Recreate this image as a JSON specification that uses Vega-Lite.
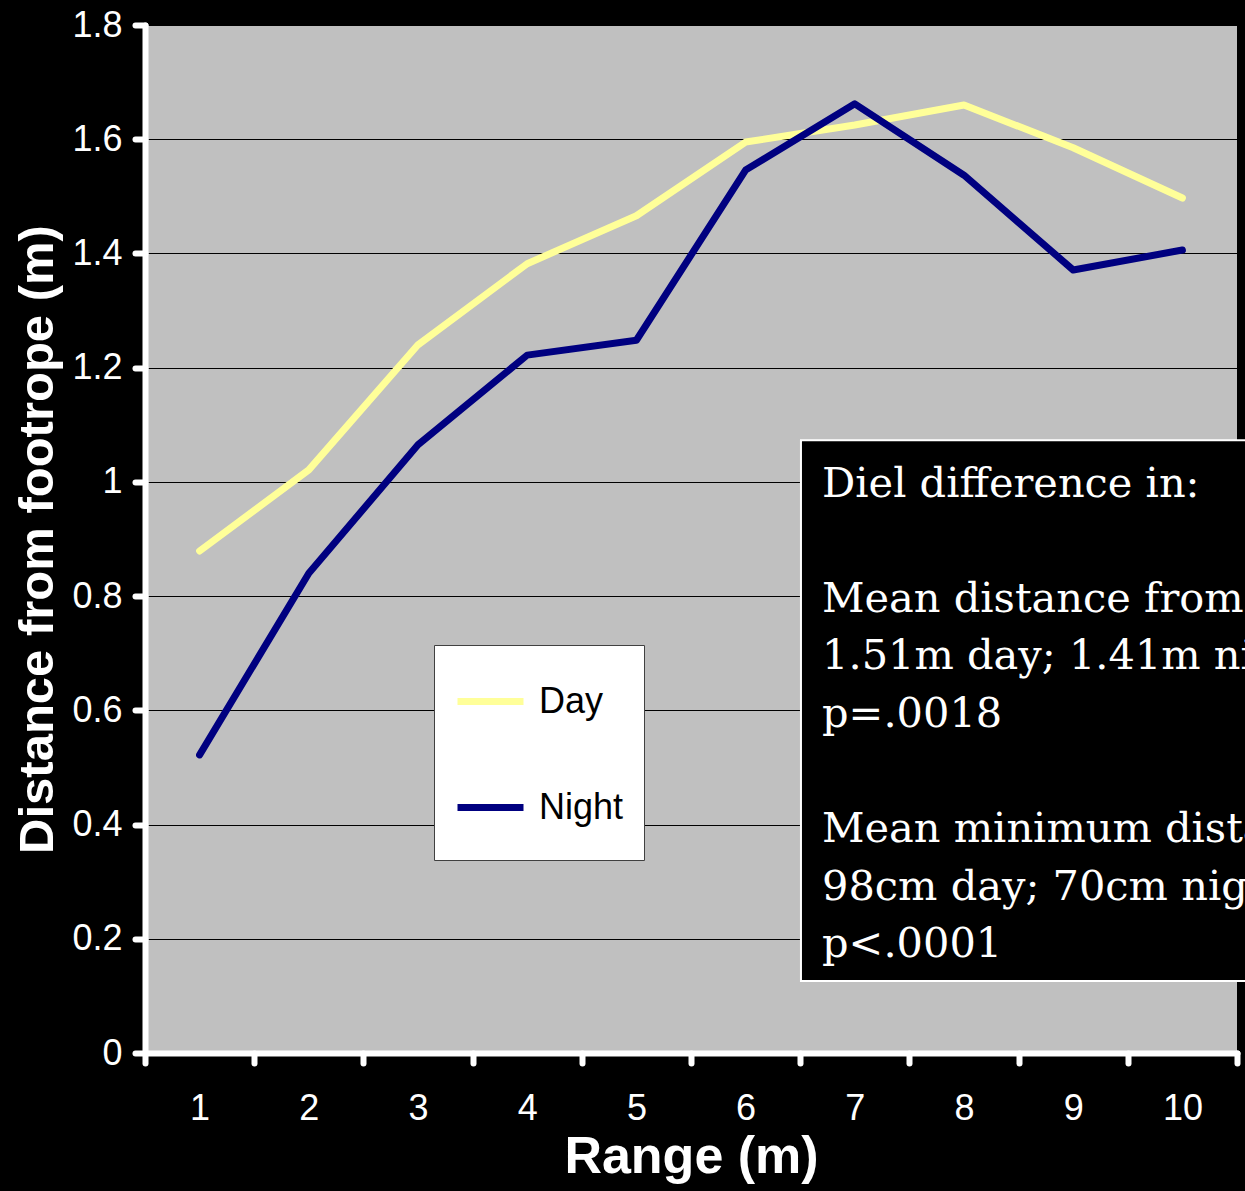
{
  "$schema": "https://vega.github.io/schema/vega-lite/v6.json",
  "width": 1092,
  "height": 1028,
  "autosize": {"type": "none"},
  "padding": {"left": 145, "top": 25, "right": 8, "bottom": 138},
  "background": "black",
  "config": {
    "view": {"fill": "#C0C0C0", "stroke": null},
    "font": "Liberation Sans"
  },
  "datasets": {
    "series": [
      {"range": 1, "period": "Day", "dist": 0.879},
      {"range": 2, "period": "Day", "dist": 1.021},
      {"range": 3, "period": "Day", "dist": 1.240},
      {"range": 4, "period": "Day", "dist": 1.382},
      {"range": 5, "period": "Day", "dist": 1.466},
      {"range": 6, "period": "Day", "dist": 1.595},
      {"range": 7, "period": "Day", "dist": 1.625},
      {"range": 8, "period": "Day", "dist": 1.660},
      {"range": 9, "period": "Day", "dist": 1.585},
      {"range": 10, "period": "Day", "dist": 1.497},
      {"range": 1, "period": "Night", "dist": 0.522},
      {"range": 2, "period": "Night", "dist": 0.840},
      {"range": 3, "period": "Night", "dist": 1.065},
      {"range": 4, "period": "Night", "dist": 1.222},
      {"range": 5, "period": "Night", "dist": 1.248},
      {"range": 6, "period": "Night", "dist": 1.546},
      {"range": 7, "period": "Night", "dist": 1.662},
      {"range": 8, "period": "Night", "dist": 1.537},
      {"range": 9, "period": "Night", "dist": 1.371},
      {"range": 10, "period": "Night", "dist": 1.406}
    ],
    "note": [
      {"block": "head", "label": ["Diel difference in:"]},
      {"block": "mean", "label": ["Mean distance from footrope:", "1.51m day; 1.41m night", "p=.0018"]},
      {"block": "min", "label": ["Mean minimum distance from footrope:", "98cm day; 70cm night", "p<.0001"]}
    ]
  },
  "layer": [
    {
      "data": {"name": "series"},
      "mark": {"type": "line", "strokeWidth": 7, "strokeCap": "round", "strokeJoin": "round"},
      "encoding": {
        "x": {
          "field": "range", "type": "ordinal",
          "scale": {"type": "band", "paddingInner": 0, "paddingOuter": 0},
          "axis": {
            "title": "Range (m)", "labelAngle": 0, "grid": false,
            "tickBand": "extent",
            "domainColor": "white", "domainWidth": 6, "domainCap": "round",
            "tickColor": "white", "tickWidth": 6, "tickSize": 10, "tickCap": "round",
            "labelColor": "white", "labelFontSize": 36, "labelPadding": 28, "labelFont": "Liberation Sans",
            "titleColor": "white", "titleFontSize": 52, "titleFontWeight": "bold", "titleFont": "Liberation Sans", "titlePadding": 5
          }
        },
        "y": {
          "field": "dist", "type": "quantitative",
          "scale": {"domain": [0, 1.8], "nice": false, "zero": true},
          "axis": {
            "title": "Distance from footrope (m)",
            "values": [0, 0.2, 0.4, 0.6, 0.8, 1, 1.2, 1.4, 1.6, 1.8],
            "format": "~g",
            "grid": true, "gridColor": "black", "gridWidth": 1,
            "domainColor": "white", "domainWidth": 6, "domainCap": "round",
            "tickColor": "white", "tickWidth": 6, "tickSize": 10, "tickCap": "round",
            "labelColor": "white", "labelFontSize": 36, "labelPadding": 13, "labelFont": "Liberation Sans",
            "titleColor": "white", "titleFontSize": 49, "titleFontWeight": "bold", "titleFont": "Liberation Sans", "titlePadding": 9
          }
        },
        "color": {
          "field": "period", "type": "nominal",
          "scale": {"domain": ["Day", "Night"], "range": ["#FFFF99", "#000080"]},
          "legend": {
            "title": "\u00a0", "titleOrient": "bottom", "titleFontSize": 1, "titlePadding": 13,
            "orient": "none", "legendX": 289, "legendY": 620,
            "fillColor": "white", "strokeColor": "#404040", "padding": 20,
            "symbolType": "stroke", "symbolSize": 4356, "symbolStrokeWidth": 7,
            "labelFontSize": 36, "labelColor": "black", "labelFont": "Liberation Sans",
            "labelOffset": 12, "rowPadding": 51
          }
        }
      }
    },
    {
      "data": {"name": "note"},
      "transform": [{"filter": "datum.block === 'head'"}],
      "mark": {"type": "rect", "fill": "black", "stroke": "white", "strokeWidth": 2},
      "encoding": {
        "x": {"datum": 6.007, "type": "quantitative", "scale": {"domain": [0, 10]}, "axis": null},
        "x2": {"datum": 10.6},
        "y": {"datum": 1.073, "type": "quantitative"},
        "y2": {"datum": 0.126}
      }
    },
    {
      "data": {"name": "note"},
      "transform": [{"filter": "datum.block === 'head'"}],
      "mark": {"type": "text", "color": "white", "font": "DejaVu Serif", "fontSize": 41.5, "align": "left", "baseline": "alphabetic", "lineHeight": 57.3},
      "encoding": {
        "x": {"datum": 6.2, "type": "quantitative", "scale": {"domain": [0, 10]}, "axis": null},
        "y": {"datum": 0.973, "type": "quantitative"},
        "text": {"field": "label"}
      }
    },
    {
      "data": {"name": "note"},
      "transform": [{"filter": "datum.block === 'mean'"}],
      "mark": {"type": "text", "color": "white", "font": "DejaVu Serif", "fontSize": 41.5, "align": "left", "baseline": "alphabetic", "lineHeight": 57.3},
      "encoding": {
        "x": {"datum": 6.2, "type": "quantitative", "scale": {"domain": [0, 10]}, "axis": null},
        "y": {"datum": 0.772, "type": "quantitative"},
        "text": {"field": "label"}
      }
    },
    {
      "data": {"name": "note"},
      "transform": [{"filter": "datum.block === 'min'"}],
      "mark": {"type": "text", "color": "white", "font": "DejaVu Serif", "fontSize": 41.5, "align": "left", "baseline": "alphabetic", "lineHeight": 57.3},
      "encoding": {
        "x": {"datum": 6.2, "type": "quantitative", "scale": {"domain": [0, 10]}, "axis": null},
        "y": {"datum": 0.369, "type": "quantitative"},
        "text": {"field": "label"}
      }
    }
  ],
  "resolve": {"scale": {"x": "independent"}}
}
